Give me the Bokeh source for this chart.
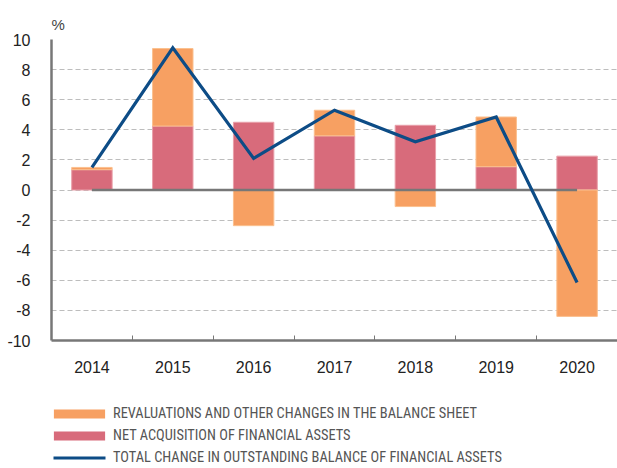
from bokeh.plotting import figure
from bokeh.layouts import column
from bokeh.models import Range1d, FixedTicker, Legend, LegendItem
from bokeh.embed import file_html
from bokeh.resources import INLINE

years = [2014, 2015, 2016, 2017, 2018, 2019, 2020]
net_acquisition = [1.35, 4.25, 4.5, 3.6, 4.3, 1.55, 2.25]
revaluations = [0.15, 5.15, -2.37, 1.7, -1.1, 3.3, -8.4]
total_change = [1.5, 9.45, 2.1, 5.3, 3.2, 4.85, -6.15]
y_ticks = [-10, -8, -6, -4, -2, 0, 2, 4, 6, 8, 10]
y_tick_labels = ["-10", "-8", "-6", "-4", "-2", "0", "2", "4", "6", "8", "10"]
series_labels = [
    "REVALUATIONS AND OTHER CHANGES IN THE BALANCE SHEET",
    "NET ACQUISITION OF FINANCIAL ASSETS",
    "TOTAL CHANGE IN OUTSTANDING BALANCE OF FINANCIAL ASSETS",
]
unit_label = "%"

ORANGE = "#F7A062"
PINK = "#D86B7B"
BLUE = "#0D4C86"
GRAY = "#777777"
FONT = "Liberation Sans"

net_bottom = [0.0 for _ in years]
net_top = list(net_acquisition)
rev_bottom = [n if r > 0 else 0.0 for n, r in zip(net_acquisition, revaluations)]
rev_top = [b + r for b, r in zip(rev_bottom, revaluations)]

p = figure(width=617, height=377,
           x_range=Range1d(years[0] - 0.5, years[-1] + 0.5),
           y_range=Range1d(-10, 10),
           output_backend="svg", toolbar_location=None,
           min_border_left=51, min_border_right=0, min_border_top=39,
           min_border_bottom=37)
p.outline_line_color = None
p.background_fill_color = "white"
p.border_fill_color = "white"

p.title.text = unit_label
p.title.text_font = FONT
p.title.text_font_size = "15px"
p.title.text_font_style = "normal"
p.title.text_color = "#444444"
p.title.align = "left"
p.title.standoff = 13

# axes
p.yaxis.ticker = FixedTicker(ticks=y_ticks)
p.yaxis.major_label_overrides = {t: l for t, l in zip(y_ticks, y_tick_labels)}
p.yaxis.major_tick_line_color = None
p.yaxis.minor_tick_line_color = None
p.yaxis.axis_line_color = GRAY
p.yaxis.axis_line_width = 2.5
p.yaxis.major_label_text_font = FONT
p.yaxis.major_label_text_font_size = "16px"
p.yaxis.major_label_text_color = "#222222"
p.yaxis.major_label_standoff = 15

p.xaxis.ticker = FixedTicker(ticks=years, minor_ticks=[y + 0.5 for y in years[:-1]])
p.xaxis.major_label_overrides = {y: str(y) for y in years}
p.xaxis.major_tick_line_color = None
p.xaxis.minor_tick_in = 5
p.xaxis.minor_tick_out = 0
p.xaxis.minor_tick_line_color = GRAY
p.xaxis.minor_tick_line_width = 1
p.xaxis.axis_line_color = GRAY
p.xaxis.axis_line_width = 2.5
p.xaxis.major_label_text_font = FONT
p.xaxis.major_label_text_font_size = "16px"
p.xaxis.major_label_text_color = "#222222"
p.xaxis.major_label_standoff = 14

p.xgrid.visible = False
p.ygrid.ticker = FixedTicker(ticks=y_ticks)
p.ygrid.grid_line_color = "#bdbdbd"
p.ygrid.grid_line_dash = "5 3"
p.ygrid.grid_line_width = 1

# bars
p.vbar(x=years, width=0.5, bottom=net_bottom, top=net_top,
       fill_color=PINK, line_color="#E9A0AA", line_width=1)
p.vbar(x=years, width=0.5, bottom=rev_bottom, top=rev_top,
       fill_color=ORANGE, line_color="#FBC08F", line_width=1)

# zero line across the category span
p.line(x=[years[0], years[-1]], y=[0, 0], line_color=GRAY, line_width=2.5)

p.line(x=years, y=total_change, line_color=BLUE, line_width=3.2,
       line_join="miter")

# legend in its own strip below the chart (its renderers lie outside the strip's view)
lg = figure(width=617, height=91, x_range=Range1d(0, 1), y_range=Range1d(0, 1),
            output_backend="svg", toolbar_location=None,
            x_axis_type=None, y_axis_type=None,
            min_border_left=0, min_border_right=0, min_border_top=0,
            min_border_bottom=0)
lg.outline_line_color = None
lg.grid.visible = False
lr_rev = lg.vbar(x=years, width=0.5, bottom=rev_bottom, top=rev_top,
                 fill_color=ORANGE, line_color=None)
lr_net = lg.vbar(x=years, width=0.5, bottom=net_bottom, top=net_top,
                 fill_color=PINK, line_color=None)
lr_tot = lg.line(x=years, y=total_change, line_color=BLUE, line_width=3.2,
                 line_dash="0 6 52 20")

legend = Legend(items=[
    LegendItem(label=series_labels[0], renderers=[lr_rev]),
    LegendItem(label=series_labels[1], renderers=[lr_net]),
    LegendItem(label=series_labels[2], renderers=[lr_tot]),
], location=(-4, 0), orientation="vertical")
legend.glyph_width = 64
legend.glyph_height = 11
legend.label_height = 22
legend.label_standoff = 2
legend.spacing = 0
legend.padding = 0
legend.margin = 0
legend.border_line_color = None
legend.background_fill_alpha = 0
legend.label_text_font = "Roboto Condensed"
legend.label_text_font_size = "14.4px"
legend.label_text_color = "#555555"
lg.add_layout(legend, "center")

layout = column(p, lg, spacing=0)
open("out.html", "w").write(file_html(layout, INLINE))
